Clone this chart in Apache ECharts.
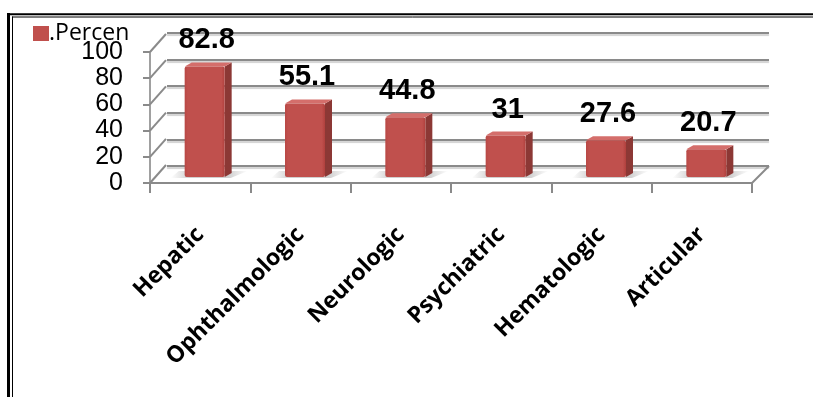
<!DOCTYPE html>
<html>
<head>
<meta charset="utf-8">
<script src="https://cdn.jsdelivr.net/npm/echarts@6/dist/echarts.min.js"></script>
<style>
  html, body { margin: 0; padding: 0; background: #fff; }
  #chart { width: 813px; height: 397px; }
</style>
</head>
<body>
<div id="chart"></div>
<script>
const categories = ["Hepatic", "Ophthalmologic", "Neurologic", "Psychiatric", "Hematologic", "Articular"];
const percent = [82.8, 55.1, 44.8, 31, 27.6, 20.7];
const yTicks = [0, 20, 40, 60, 80, 100];
const seriesName = ".Percen";

const gridGray = "#8a8a8a";
const frontColor = "#c0504d";
const sideColor = "#8c3835";
const topColor = "#d46e6b";

const chart = echarts.init(document.getElementById("chart"));

const valueAxis = (gridIndex, show) => ({
  type: "value",
  gridIndex,
  min: 0,
  max: 100,
  interval: 20,
  show,
});

chart.setOption({
  animation: false,
  backgroundColor: "#fff",
  legend: {
    left: 33,
    top: 22,
    padding: 0,
    itemWidth: 16,
    itemHeight: 15,
    icon: "rect",
    data: [seriesName],
    textStyle: {
      fontFamily: "Open Sans",
      fontSize: 23,
      color: "#000",
      padding: [0, 0, 0, -5],
    },
  },
  grid: [
    // back wall
    { left: 167, right: 44, top: 33, bottom: 231 },
    // front axis plane
    { left: 150, width: 602, top: 52, height: 131 },
    // bar plane
    { left: 158, width: 602, top: 43.4, height: 133.6 },
  ],
  xAxis: [
    { type: "category", gridIndex: 0, data: categories, show: false },
    {
      type: "category",
      gridIndex: 1,
      data: categories,
      axisLine: { lineStyle: { color: gridGray, width: 2 } },
      axisTick: { show: true, length: 10, lineStyle: { color: gridGray, width: 2 } },
      axisLabel: {
        interval: 0,
        rotate: 45,
        margin: 48,
        color: "#000",
        fontFamily: "Open Sans",
        fontWeight: "bold",
        fontSize: 23,
      },
    },
    { type: "category", gridIndex: 2, data: categories, show: false },
  ],
  yAxis: [
    Object.assign(valueAxis(0, true), {
      axisLine: { show: false },
      axisTick: { show: false },
      axisLabel: { show: false },
      splitLine: {
        show: true,
        lineStyle: {
          color: gridGray,
          width: 2,
          shadowColor: "rgba(0,0,0,0.18)",
          shadowOffsetY: 2,
          shadowBlur: 1,
        },
      },
    }),
    Object.assign(valueAxis(1, true), {
      axisLine: { show: true, lineStyle: { color: "#a0a0a0", width: 2 } },
      axisTick: { show: true, length: 7, lineStyle: { color: gridGray, width: 2 } },
      splitLine: { show: false },
      axisLabel: {
        margin: 27,
        color: "#000",
        fontFamily: "Liberation Sans",
        fontSize: 25,
      },
    }),
    valueAxis(2, false),
  ],
  series: [
    {
      // left wall diagonals from the front ticks to the back gridlines
      type: "custom",
      xAxisIndex: 1,
      yAxisIndex: 1,
      silent: true,
      data: yTicks.map((v) => [0, v]),
      renderItem: (params, api) => {
        const c = api.coord([0, api.value(1)]);
        const half = api.size([1, 0])[0] / 2;
        const x = c[0] - half;
        return {
          type: "line",
          shape: { x1: x, y1: c[1], x2: x + 16, y2: c[1] - 18 },
          style: { stroke: gridGray, lineWidth: 2 },
        };
      },
    },
    {
      // right edge of the floor
      type: "custom",
      xAxisIndex: 1,
      yAxisIndex: 1,
      silent: true,
      data: [[categories.length - 1, 0]],
      renderItem: (params, api) => {
        const c = api.coord([api.value(0), 0]);
        const half = api.size([1, 0])[0] / 2;
        const x = c[0] + half;
        return {
          type: "line",
          shape: { x1: x, y1: c[1], x2: x + 17, y2: c[1] - 17 },
          style: { stroke: gridGray, lineWidth: 2 },
        };
      },
    },
    {
      name: seriesName,
      type: "custom",
      xAxisIndex: 2,
      yAxisIndex: 2,
      itemStyle: { color: frontColor },
      data: percent.map((v, i) => [i, v]),
      renderItem: (params, api) => {
        const top = api.coord([api.value(0), api.value(1)]);
        const base = api.coord([api.value(0), 0]);
        const w = 40;
        const d = 7;
        const up = 4;
        const x = top[0] - 23.5;
        return {
          type: "group",
          children: [
            {
              // soft shadow on the floor
              type: "polygon",
              shape: {
                points: [
                  [x - 14, base[1] + 1],
                  [x - 6, base[1] - 6],
                  [x + w + d + 16, base[1] - 6],
                  [x + w + 6, base[1] + 1],
                ],
              },
              style: {
                fill: new echarts.graphic.LinearGradient(0, 0, 1, 0, [
                  { offset: 0, color: "rgba(150,150,150,0)" },
                  { offset: 0.25, color: "rgba(150,150,150,0.45)" },
                  { offset: 0.75, color: "rgba(150,150,150,0.45)" },
                  { offset: 1, color: "rgba(150,150,150,0)" },
                ]),
              },
            },
            {
              type: "polygon",
              shape: {
                points: [
                  [x + w, top[1]],
                  [x + w + d, top[1] - up],
                  [x + w + d, base[1] - up],
                  [x + w, base[1]],
                ],
              },
              style: { fill: sideColor },
            },
            {
              type: "polygon",
              shape: {
                points: [
                  [x, top[1]],
                  [x + d, top[1] - up],
                  [x + w + d, top[1] - up],
                  [x + w, top[1]],
                ],
              },
              style: { fill: topColor },
            },
            {
              type: "rect",
              shape: { x: x, y: top[1], width: w, height: base[1] - top[1], r: 2 },
              style: {
                fill: new echarts.graphic.LinearGradient(0, 0, 1, 0, [
                  { offset: 0, color: "#b84845" },
                  { offset: 0.08, color: frontColor },
                  { offset: 0.92, color: frontColor },
                  { offset: 1, color: "#b0403d" },
                ]),
              },
            },
            {
              type: "text",
              x: x + 22,
              y: top[1] - 26,
              style: {
                text: String(api.value(1)),
                fontFamily: "Liberation Sans",
                fontWeight: "bold",
                fontSize: 29,
                fill: "#000",
                align: "center",
                verticalAlign: "middle",
              },
            },
          ],
        };
      },
    },
  ],
  graphic: [
    { type: "line", shape: { x1: 8.5, y1: 13, x2: 8.5, y2: 397 }, style: { stroke: "#000", lineWidth: 3 } },
    { type: "line", shape: { x1: 7, y1: 14.3, x2: 813, y2: 14.3 }, style: { stroke: "#000", lineWidth: 2 } },
    { type: "line", shape: { x1: 12.5, y1: 16.5, x2: 12.5, y2: 397 }, style: { stroke: "#000", lineWidth: 1 } },
    { type: "line", shape: { x1: 12, y1: 17, x2: 813, y2: 17 }, style: { stroke: "#000", lineWidth: 1 } },
  ],
});
</script>
</body>
</html>
